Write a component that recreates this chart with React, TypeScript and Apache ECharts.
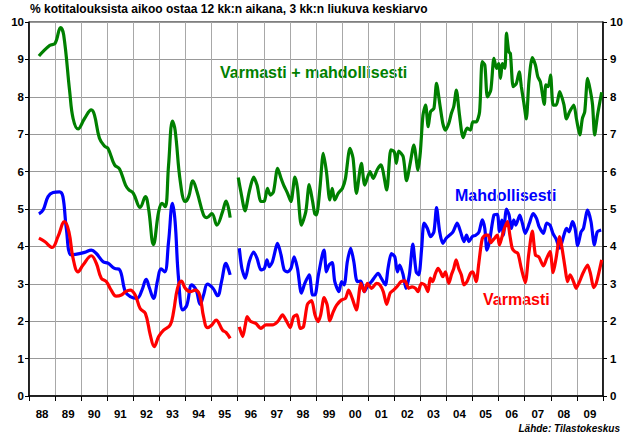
import React, { useEffect, useRef } from "react";
import * as echarts from "echarts";

const yearLabels = ["88","89","90","91","92","93","94","95","96","97","98","99","00","01","02","03","04","05","06","07","08","09"];
const yTicks = [0, 10];

const titleText = "% kotitalouksista aikoo ostaa 12 kk:n aikana, 3 kk:n liukuva keskiarvo";
const sourceText = "Lähde: Tilastokeskus";
const seriesNames = ["Varmasti + mahdollisesti", "Mahdollisesti", "Varmasti"];

// Varmasti + mahdollisesti (green), 1988–1995
const greenEarly = [
  [1988.38, 9.09], [1988.79, 9.37], [1989.0, 9.43], [1989.21, 9.85], [1989.33, 9.65], [1989.56, 8.14],
  [1989.69, 7.42], [1989.88, 7.14], [1990.13, 7.42], [1990.39, 7.65], [1990.51, 7.51], [1990.7, 6.89],
  [1990.9, 6.68], [1991.03, 6.62], [1991.28, 6.18], [1991.47, 6.07], [1991.7, 5.64], [1991.82, 5.52],
  [1992.0, 5.42], [1992.26, 5.04], [1992.46, 5.33], [1992.58, 5.02], [1992.77, 4.05], [1992.97, 4.93],
  [1993.1, 5.15], [1993.22, 5.06], [1993.35, 6.18], [1993.5, 7.35], [1993.6, 7.11], [1993.8, 5.73],
  [1993.99, 5.2], [1994.12, 5.33], [1994.28, 5.75], [1994.44, 5.46], [1994.69, 4.84], [1994.82, 4.77],
  [1995.01, 4.88], [1995.2, 4.57], [1995.42, 4.93], [1995.55, 5.21], [1995.71, 4.77]
];
// Varmasti + mahdollisesti (green), 1996–2009
const greenLate = [
  [1996.02, 5.84], [1996.12, 5.46], [1996.28, 4.95], [1996.44, 5.46], [1996.61, 5.85], [1996.74, 5.64],
  [1996.89, 5.2], [1997.02, 5.21], [1997.14, 5.55], [1997.25, 5.37], [1997.37, 5.46], [1997.53, 6.09],
  [1997.66, 5.82], [1997.76, 5.64], [1997.91, 5.42], [1998.04, 5.2], [1998.19, 5.85], [1998.29, 5.55],
  [1998.44, 4.57], [1998.61, 4.93], [1998.74, 5.65], [1998.87, 5.2], [1998.95, 4.88], [1999.02, 4.84],
  [1999.15, 5.55], [1999.28, 6.49], [1999.4, 6.0], [1999.53, 5.24], [1999.62, 5.55], [1999.72, 5.24],
  [1999.85, 5.42], [2000.01, 5.55], [2000.13, 5.82], [2000.3, 6.62], [2000.42, 6.36], [2000.55, 5.42],
  [2000.74, 6.22], [2000.87, 5.64], [2001.07, 6.0], [2001.19, 5.82], [2001.36, 6.07], [2001.49, 6.18],
  [2001.71, 5.51], [2001.87, 6.58], [2002.0, 6.53], [2002.08, 6.22], [2002.17, 6.55], [2002.34, 6.4],
  [2002.47, 5.76], [2002.62, 6.26], [2002.75, 6.71], [2002.91, 6.04], [2003.0, 6.53], [2003.1, 7.51],
  [2003.2, 7.78], [2003.3, 7.2], [2003.39, 7.6], [2003.52, 7.69], [2003.62, 8.36], [2003.74, 7.83],
  [2003.86, 7.29], [2003.96, 7.11], [2004.09, 7.29], [2004.19, 7.56], [2004.28, 7.74], [2004.38, 8.18],
  [2004.5, 7.51], [2004.64, 6.91], [2004.79, 7.16], [2004.92, 7.11], [2005.01, 7.33], [2005.14, 7.33],
  [2005.27, 7.6], [2005.37, 8.94], [2005.47, 8.85], [2005.57, 8.0], [2005.7, 8.18], [2005.82, 9.03],
  [2005.92, 8.76], [2006.0, 8.89], [2006.07, 8.49], [2006.15, 8.89], [2006.24, 8.76], [2006.3, 9.7],
  [2006.39, 9.2], [2006.45, 9.16], [2006.56, 8.27], [2006.68, 8.36], [2006.79, 8.67], [2006.87, 8.27],
  [2006.96, 7.87], [2007.06, 7.41], [2007.16, 8.4], [2007.29, 9.05], [2007.41, 8.85], [2007.5, 8.54],
  [2007.6, 8.4], [2007.75, 7.8], [2007.81, 8.32], [2007.9, 8.27], [2007.99, 8.58], [2008.09, 7.78],
  [2008.21, 7.78], [2008.34, 8.14], [2008.5, 7.8], [2008.6, 7.41], [2008.72, 7.6], [2008.88, 7.78],
  [2008.98, 7.42], [2009.11, 6.98], [2009.21, 7.42], [2009.3, 7.6], [2009.41, 8.49], [2009.51, 8.18],
  [2009.6, 7.78], [2009.68, 6.98], [2009.79, 7.51], [2009.95, 8.12]
];

// Mahdollisesti (blue)
const blueEarly = [
  [1988.38, 4.87], [1988.54, 4.97], [1988.73, 5.33], [1988.92, 5.44], [1989.17, 5.46], [1989.3, 5.33],
  [1989.43, 4.48], [1989.62, 3.77], [1989.88, 3.8], [1990.13, 3.84], [1990.39, 3.9], [1990.58, 3.81],
  [1990.84, 3.59], [1991.03, 3.55], [1991.28, 3.41], [1991.47, 3.38], [1991.69, 2.79], [1991.88, 2.66],
  [1992.14, 2.61], [1992.33, 2.83], [1992.49, 3.12], [1992.62, 2.88], [1992.77, 2.61], [1992.93, 3.1],
  [1993.06, 3.4], [1993.2, 3.32], [1993.35, 4.13], [1993.5, 5.15], [1993.6, 4.66], [1993.73, 3.15],
  [1993.9, 2.3], [1994.05, 2.43], [1994.24, 2.97], [1994.41, 2.83], [1994.56, 2.45], [1994.69, 2.7],
  [1994.84, 2.99], [1995.05, 2.88], [1995.23, 2.68], [1995.38, 3.06], [1995.55, 3.55], [1995.61, 3.46],
  [1995.71, 3.24]
];
const blueLate = [
  [1996.06, 3.95], [1996.16, 3.41], [1996.29, 3.15], [1996.44, 3.59], [1996.61, 3.85], [1996.74, 3.68],
  [1996.89, 3.37], [1997.02, 3.41], [1997.12, 3.64], [1997.21, 3.46], [1997.33, 3.59], [1997.53, 4.08],
  [1997.66, 3.77], [1997.78, 3.37], [1997.91, 3.32], [1998.04, 3.41], [1998.16, 3.72], [1998.29, 3.41],
  [1998.44, 2.75], [1998.57, 3.01], [1998.74, 3.24], [1998.87, 2.7], [1998.96, 2.7], [1999.08, 3.19],
  [1999.24, 3.77], [1999.31, 3.9], [1999.4, 3.32], [1999.5, 3.5], [1999.62, 3.57], [1999.72, 3.06],
  [1999.88, 2.79], [1999.98, 3.06], [2000.08, 2.97], [2000.2, 3.59], [2000.33, 3.95], [2000.45, 3.59],
  [2000.58, 3.06], [2000.72, 3.07], [2000.85, 2.79], [2001.0, 2.97], [2001.13, 3.06], [2001.26, 3.19],
  [2001.38, 3.28], [2001.5, 3.15], [2001.66, 2.97], [2001.76, 3.41], [2001.89, 3.81], [2002.02, 3.72],
  [2002.12, 3.32], [2002.21, 3.5], [2002.34, 3.24], [2002.45, 2.88], [2002.58, 3.24], [2002.71, 4.06],
  [2002.84, 3.32], [2002.94, 3.24], [2003.05, 3.95], [2003.14, 4.62], [2003.27, 4.48], [2003.39, 4.26],
  [2003.52, 4.39], [2003.62, 5.04], [2003.74, 4.39], [2003.86, 4.08], [2003.99, 4.22], [2004.12, 4.3],
  [2004.25, 4.39], [2004.41, 4.62], [2004.54, 4.39], [2004.67, 4.13], [2004.77, 4.3], [2004.86, 4.13],
  [2004.99, 4.26], [2005.12, 4.3], [2005.25, 4.39], [2005.37, 4.71], [2005.47, 4.48], [2005.55, 3.9],
  [2005.65, 4.13], [2005.82, 4.84], [2005.95, 4.86], [2006.03, 4.4], [2006.12, 4.7], [2006.18, 4.3],
  [2006.3, 5.0], [2006.4, 4.84], [2006.49, 4.48], [2006.58, 4.71], [2006.66, 4.57], [2006.81, 4.84],
  [2006.91, 4.62], [2007.02, 4.35], [2007.18, 4.62], [2007.32, 4.88], [2007.45, 4.75], [2007.55, 4.53],
  [2007.72, 4.35], [2007.84, 4.62], [2007.97, 4.57], [2008.08, 4.35], [2008.2, 4.2], [2008.34, 3.95],
  [2008.5, 4.3], [2008.6, 4.48], [2008.7, 4.39], [2008.83, 4.66], [2008.93, 4.48], [2009.03, 4.02],
  [2009.16, 4.39], [2009.25, 4.48], [2009.41, 4.97], [2009.54, 4.66], [2009.67, 4.04], [2009.78, 4.39],
  [2009.93, 4.44]
];

// Varmasti (red)
const redEarly = [
  [1988.38, 4.22], [1988.6, 4.13], [1988.89, 3.97], [1989.11, 4.26], [1989.36, 4.66], [1989.53, 4.39],
  [1989.69, 3.68], [1989.88, 3.32], [1990.07, 3.5], [1990.39, 3.75], [1990.58, 3.55], [1990.77, 3.15],
  [1990.96, 3.06], [1991.15, 2.83], [1991.34, 2.67], [1991.54, 2.7], [1991.7, 2.79], [1991.88, 2.83],
  [1992.07, 2.7], [1992.26, 2.34], [1992.46, 2.21], [1992.65, 1.63], [1992.8, 1.32], [1992.97, 1.59],
  [1993.16, 1.76], [1993.41, 1.9], [1993.54, 2.25], [1993.69, 2.88], [1993.84, 3.07], [1993.99, 2.88],
  [1994.18, 2.79], [1994.37, 2.83], [1994.54, 2.7], [1994.69, 2.12], [1994.84, 1.83], [1995.01, 1.9],
  [1995.17, 2.03], [1995.42, 1.76], [1995.55, 1.7], [1995.71, 1.54]
];
const redLate = [
  [1996.06, 1.85], [1996.19, 1.59], [1996.29, 1.9], [1996.36, 2.12], [1996.5, 1.99], [1996.69, 1.94],
  [1996.89, 1.81], [1997.08, 1.9], [1997.33, 1.9], [1997.53, 1.99], [1997.72, 2.17], [1997.85, 2.03],
  [1998.01, 1.83], [1998.14, 2.12], [1998.27, 2.17], [1998.39, 1.81], [1998.52, 1.85], [1998.67, 2.45],
  [1998.83, 2.55], [1998.96, 2.17], [1999.08, 1.99], [1999.18, 2.17], [1999.31, 2.63], [1999.43, 2.43],
  [1999.53, 2.01], [1999.66, 2.25], [1999.79, 2.43], [1999.98, 2.57], [2000.13, 2.61], [2000.25, 2.83],
  [2000.39, 2.61], [2000.55, 2.3], [2000.72, 3.01], [2000.85, 2.79], [2000.97, 3.01], [2001.13, 2.88],
  [2001.32, 3.01], [2001.45, 2.97], [2001.58, 2.79], [2001.71, 2.45], [2001.84, 2.75], [2001.97, 2.83],
  [2002.1, 2.92], [2002.26, 3.06], [2002.41, 3.08], [2002.55, 2.88], [2002.68, 2.92], [2002.81, 2.88],
  [2002.91, 2.79], [2003.04, 3.01], [2003.17, 2.97], [2003.29, 2.79], [2003.38, 3.15], [2003.47, 3.06],
  [2003.58, 3.28], [2003.68, 3.41], [2003.77, 3.32], [2003.86, 3.19], [2003.96, 3.32], [2004.09, 3.01],
  [2004.19, 3.24], [2004.28, 3.41], [2004.37, 3.64], [2004.47, 3.41], [2004.57, 3.24], [2004.67, 2.97],
  [2004.79, 3.06], [2004.92, 3.28], [2005.01, 3.32], [2005.14, 3.06], [2005.24, 3.55], [2005.37, 4.2],
  [2005.5, 4.3], [2005.6, 4.3], [2005.7, 4.1], [2005.82, 4.2], [2005.95, 4.3], [2006.03, 4.04],
  [2006.13, 4.26], [2006.22, 4.48], [2006.34, 4.66], [2006.43, 4.3], [2006.52, 3.95], [2006.62, 3.86],
  [2006.74, 3.81], [2006.87, 3.41], [2007.02, 3.03], [2007.15, 3.77], [2007.29, 4.41], [2007.41, 3.77],
  [2007.54, 3.72], [2007.72, 3.48], [2007.84, 3.68], [2007.97, 3.86], [2008.09, 3.3], [2008.21, 3.72],
  [2008.34, 4.26], [2008.43, 3.95], [2008.55, 3.41], [2008.64, 3.06], [2008.74, 3.24], [2008.87, 3.06],
  [2008.97, 2.88], [2009.1, 3.06], [2009.23, 3.28], [2009.41, 3.5], [2009.53, 3.24], [2009.64, 2.9],
  [2009.74, 3.01], [2009.95, 3.64]
];

const GREEN = "#008000";
const BLUE = "#0000ff";
const RED = "#ff0000";
const FONT = "'Liberation Sans', Arial, Helvetica, sans-serif";

export default function App() {
  const ref = useRef<HTMLDivElement>(null);

  useEffect(() => {
    if (!ref.current) return;
    const chart = echarts.init(ref.current, null, { renderer: "svg" });

    const line = (name: string, data: number[][], color: string, smooth: number) => ({
      type: "line",
      name,
      data,
      xAxisIndex: 1,
      yAxisIndex: 0,
      showSymbol: false,
      symbol: "none",
      smooth,
      lineStyle: { color, width: 3.2 },
      itemStyle: { color },
      z: 3,
    });

    const axisLabel = { color: "#000", fontWeight: "bold", fontSize: 11.5, fontFamily: FONT };

    chart.setOption({
      animation: false,
      backgroundColor: "#ffffff",
      grid: {
        left: 29,
        right: 33,
        top: 22,
        bottom: 41,
        show: true,
        borderColor: "#000",
        borderWidth: 1,
        backgroundColor: "transparent",
      },
      xAxis: [
        {
          type: "category",
          data: yearLabels,
          boundaryGap: true,
          position: "bottom",
          axisLine: { show: true, lineStyle: { color: "#000", width: 1.5 } },
          axisTick: { show: true, length: 5, lineStyle: { color: "#000", width: 1 } },
          axisLabel: { ...axisLabel, margin: 12 },
          splitLine: { show: true, lineStyle: { color: "#a8a8a8", width: 1 } },
        },
        { type: "value", min: 1988, max: 2010, show: false },
      ],
      yAxis: [
        {
          type: "value",
          min: yTicks[0],
          max: yTicks[1],
          interval: 1,
          position: "left",
          axisLine: { show: true, lineStyle: { color: "#000", width: 1.5 } },
          axisTick: { show: true, length: 4, lineStyle: { color: "#000" } },
          axisLabel: { ...axisLabel, margin: 5 },
          splitLine: { show: true, lineStyle: { color: "#999", width: 1 } },
        },
        {
          type: "value",
          min: yTicks[0],
          max: yTicks[1],
          interval: 1,
          position: "right",
          axisLine: { show: true, lineStyle: { color: "#000", width: 1.5 } },
          axisTick: { show: true, length: 4, lineStyle: { color: "#000" } },
          axisLabel: { ...axisLabel, margin: 7 },
          splitLine: { show: false },
        },
      ],
      series: [
        line(seriesNames[0], greenEarly, GREEN, 0.4),
        line(seriesNames[0], greenLate, GREEN, 0.25),
        line(seriesNames[1], blueEarly, BLUE, 0.4),
        line(seriesNames[1], blueLate, BLUE, 0.25),
        line(seriesNames[2], redEarly, RED, 0.4),
        line(seriesNames[2], redLate, RED, 0.25),
      ],
      graphic: [
        {
          type: "text",
          x: 30,
          y: 9,
          style: { text: titleText, fill: "#000", font: `bold 12px ${FONT}`, align: "left", verticalAlign: "middle" },
        },
        {
          type: "text",
          x: 620,
          y: 428,
          style: { text: sourceText, fill: "#000", font: `italic bold 10px ${FONT}`, align: "right", verticalAlign: "middle" },
        },
        {
          type: "text",
          x: 220,
          y: 72,
          style: { text: seriesNames[0], fill: GREEN, font: `bold 16px ${FONT}`, align: "left", verticalAlign: "middle" },
        },
        {
          type: "text",
          x: 455,
          y: 195,
          style: { text: seriesNames[1], fill: BLUE, font: `bold 16px ${FONT}`, align: "left", verticalAlign: "middle" },
        },
        {
          type: "text",
          x: 483,
          y: 299,
          style: { text: seriesNames[2], fill: RED, font: `bold 16px ${FONT}`, align: "left", verticalAlign: "middle" },
        },
      ],
    });

    return () => chart.dispose();
  }, []);

  return (
    <div
      ref={ref}
      style={{ position: "fixed", left: 0, top: 0, width: 636, height: 437, background: "#fff" }}
    />
  );
}
